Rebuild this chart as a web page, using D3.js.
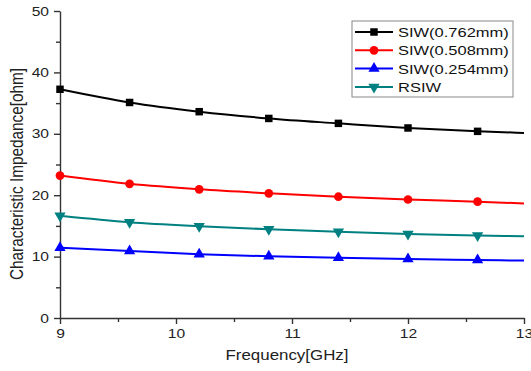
<!DOCTYPE html>
<html>
<head>
<meta charset="utf-8">
<script src="https://cdn.jsdelivr.net/npm/d3@7"></script>
<style>
  html, body { margin: 0; padding: 0; background: #fff; }
  svg { display: block; }
  text { font-family: "Liberation Sans", Arial, sans-serif; }
</style>
</head>
<body>
<svg id="chart" width="531" height="371"></svg>
<script>
// Frequency points (GHz); the last point only continues the curve, no marker
const frequency = [9, 9.6, 10.2, 10.8, 11.4, 12, 12.6, 13];

// Characteristic impedance (ohm) per structure
const siw0762 = [37.25, 35.1, 33.6, 32.5, 31.7, 30.95, 30.4, 30.15];
const siw0508 = [23.2, 21.85, 20.95, 20.3, 19.75, 19.3, 18.95, 18.65];
const siw0254 = [11.45, 10.9, 10.4, 10.05, 9.8, 9.6, 9.45, 9.35];
const rsiw    = [16.65, 15.6, 14.95, 14.45, 14.05, 13.7, 13.45, 13.3];

const seriesNames = ["SIW(0.762mm)", "SIW(0.508mm)", "SIW(0.254mm)", "RSIW"];
const xTicks = [9, 10, 11, 12, 13];
const yTicks = [0, 10, 20, 30, 40, 50];

const series = [
  { name: seriesNames[0], values: siw0762, color: "#000000", marker: d3.symbolSquare, size: 56, rot: 0 },
  { name: seriesNames[1], values: siw0508, color: "#ff0000", marker: d3.symbolCircle, size: 60, rot: 0 },
  { name: seriesNames[2], values: siw0254, color: "#0000ff", marker: d3.symbolTriangle, size: 55, rot: 0 },
  { name: seriesNames[3], values: rsiw,    color: "#008080", marker: d3.symbolTriangle, size: 55, rot: 180 }
];

const svg = d3.select("#chart");
const margin = { left: 60, right: 7, top: 11, bottom: 53 };
const W = 531, H = 371;

const x = d3.scaleLinear().domain([9, 13]).range([margin.left, W - margin.right]);
const y = d3.scaleLinear().domain([0, 50]).range([H - margin.bottom, margin.top]);

const axisColor = "#333";
const labelColor = "#222";

// widen glyphs horizontally by a factor, keeping the anchor
function widen(sel, factor) {
  sel.each(function () {
    const len = this.getComputedTextLength();
    d3.select(this).attr("textLength", len * factor).attr("lengthAdjust", "spacingAndGlyphs");
  });
}

// minor ticks
const xMinor = d3.range(9.5, 13, 1);
const yMinor = d3.range(5, 50, 10);

const gx = svg.append("g").attr("transform", `translate(0,${y(0)})`)
  .call(d3.axisBottom(x).tickValues(xTicks).tickFormat(d3.format("d")).tickSizeOuter(0).tickSizeInner(6).tickPadding(5));
const gxm = svg.append("g").attr("transform", `translate(0,${y(0)})`)
  .call(d3.axisBottom(x).tickValues(xMinor).tickFormat("").tickSizeOuter(0).tickSizeInner(4));
gxm.select(".domain").remove();

const gy = svg.append("g").attr("transform", `translate(${x(9)},0)`)
  .call(d3.axisLeft(y).tickValues(yTicks).tickFormat(d3.format("d")).tickSizeOuter(0).tickSizeInner(6).tickPadding(5));
const gym = svg.append("g").attr("transform", `translate(${x(9)},0)`)
  .call(d3.axisLeft(y).tickValues(yMinor).tickFormat("").tickSizeOuter(0).tickSizeInner(4));
gym.select(".domain").remove();

[gx, gxm, gy, gym].forEach(g => {
  g.selectAll("path, line").attr("stroke", axisColor).attr("stroke-width", 1.4);
  g.selectAll("text").attr("fill", labelColor).style("font-size", "13px")
    .style("font-family", "'Liberation Sans', Arial, sans-serif");
});
widen(gx.selectAll("text"), 1.2);
widen(gy.selectAll("text"), 1.2);

// series curves and markers
const line = d3.line()
  .x((d, i) => x(frequency[i]))
  .y(d => y(d))
  .curve(d3.curveMonotoneX);

const plot = svg.append("g");
series.forEach(s => {
  plot.append("path")
    .attr("d", line(s.values))
    .attr("fill", "none")
    .attr("stroke", s.color)
    .attr("stroke-width", 2);
  plot.selectAll(null)
    .data(s.values.slice(0, s.values.length - 1))
    .join("path")
    .attr("d", d3.symbol().type(s.marker).size(s.size))
    .attr("transform", (d, i) => `translate(${x(frequency[i])},${y(d)}) rotate(${s.rot})`)
    .attr("fill", s.color);
});

// axis titles
svg.append("text")
  .attr("x", 287)
  .attr("y", 360)
  .attr("text-anchor", "middle")
  .attr("fill", labelColor)
  .style("font-size", "15px")
  .attr("textLength", 123)
  .attr("lengthAdjust", "spacingAndGlyphs")
  .text("Frequency[GHz]");

svg.append("text")
  .attr("transform", "translate(23,174) rotate(-90) scale(1,1.2)")
  .attr("text-anchor", "middle")
  .attr("fill", labelColor)
  .style("font-size", "15px")
  .attr("textLength", 212)
  .attr("lengthAdjust", "spacingAndGlyphs")
  .text("Characteristic Impedance[ohm]");

// legend
const lg = svg.append("g").attr("transform", "translate(352,21)");
lg.append("rect")
  .attr("width", 161).attr("height", 76)
  .attr("fill", "#fff").attr("stroke", "#888").attr("stroke-width", 1);
series.forEach((s, i) => {
  const ly = 11 + i * 18.3;
  lg.append("line")
    .attr("x1", 3).attr("x2", 41).attr("y1", ly).attr("y2", ly)
    .attr("stroke", s.color).attr("stroke-width", 2);
  lg.append("path")
    .attr("d", d3.symbol().type(s.marker).size(s.size)())
    .attr("transform", `translate(22,${ly}) rotate(${s.rot})`)
    .attr("fill", s.color);
  const t = lg.append("text")
    .attr("x", 46).attr("y", ly + 5)
    .attr("fill", "#111")
    .style("font-size", "13.5px")
    .text(s.name);
  widen(t, 1.22);
});
</script>
</body>
</html>
